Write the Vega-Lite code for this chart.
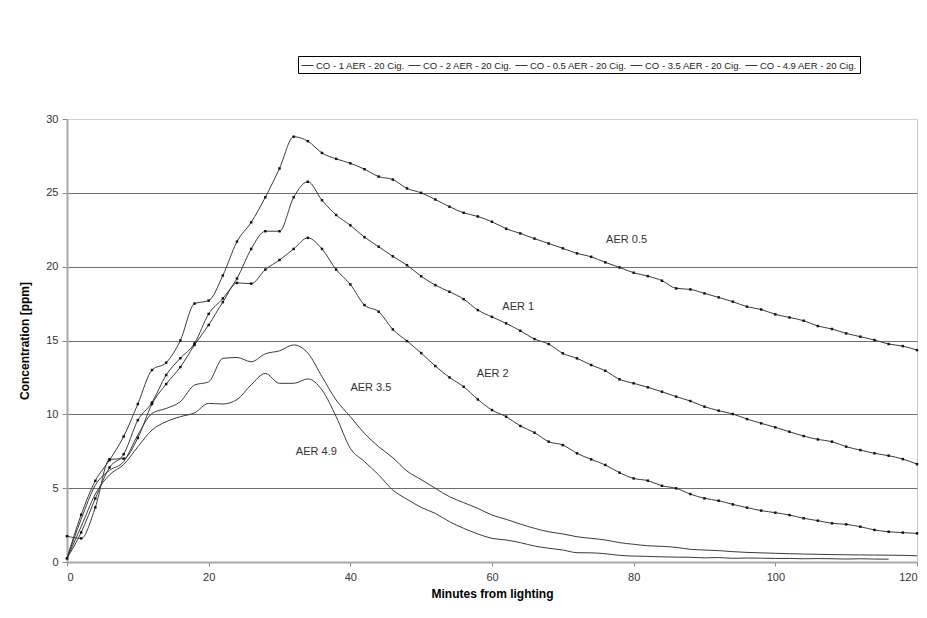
{
  "$schema": "https://vega.github.io/schema/vega-lite/v6.json",
  "width": 850,
  "height": 443,
  "autosize": {"type": "none"},
  "padding": {"left": 67, "top": 119, "right": 10, "bottom": 56},
  "background": "#ffffff",
  "config": {
    "font": "Liberation Sans",
    "view": {"stroke": "#c8c8c8", "strokeWidth": 1},
    "axis": {"labelFont": "Liberation Sans", "titleFont": "Liberation Sans"}
  },
  "datasets": {
    "co": [
      {"minute": 0, "a05": 0.25, "a1": 0.25, "a2": 1.75, "a35": 0.25, "a49": 0.25},
      {"minute": 2, "a05": 3.2, "a1": 2.0, "a2": 1.6, "a35": 2.9, "a49": 2.4},
      {"minute": 4, "a05": 5.5, "a1": 4.3, "a2": 3.7, "a35": 5.2, "a49": 4.6},
      {"minute": 6, "a05": 6.9, "a1": 6.4, "a2": 6.95, "a35": 6.2, "a49": 5.9},
      {"minute": 8, "a05": 8.5, "a1": 7.3, "a2": 7.0, "a35": 6.8, "a49": 6.6},
      {"minute": 10, "a05": 10.7, "a1": 9.6, "a2": 8.4, "a35": 8.6, "a49": 7.8},
      {"minute": 12, "a05": 13.0, "a1": 10.8, "a2": 10.7, "a35": 10.06, "a49": 8.94},
      {"minute": 14, "a05": 13.5, "a1": 12.66, "a2": 12.05, "a35": 10.4, "a49": 9.5},
      {"minute": 16, "a05": 15.0, "a1": 13.8, "a2": 13.2, "a35": 10.86, "a49": 9.84},
      {"minute": 18, "a05": 17.5, "a1": 14.8, "a2": 14.7, "a35": 11.98, "a49": 10.1},
      {"minute": 20, "a05": 17.7, "a1": 16.8, "a2": 16.05, "a35": 12.2, "a49": 10.74},
      {"minute": 22, "a05": 19.4, "a1": 17.85, "a2": 17.6, "a35": 13.79, "a49": 10.7},
      {"minute": 24, "a05": 21.7, "a1": 19.2, "a2": 18.9, "a35": 13.85, "a49": 11.0},
      {"minute": 26, "a05": 23.0, "a1": 21.2, "a2": 18.85, "a35": 13.56, "a49": 12.0},
      {"minute": 28, "a05": 24.7, "a1": 22.4, "a2": 19.8, "a35": 14.1, "a49": 12.77},
      {"minute": 30, "a05": 26.65, "a1": 22.4, "a2": 20.45, "a35": 14.3, "a49": 12.1},
      {"minute": 32, "a05": 28.8, "a1": 24.7, "a2": 21.2, "a35": 14.7, "a49": 12.1},
      {"minute": 34, "a05": 28.5, "a1": 25.75, "a2": 21.95, "a35": 14.15, "a49": 12.4},
      {"minute": 36, "a05": 27.7, "a1": 24.5, "a2": 21.2, "a35": 12.55, "a49": 11.65},
      {"minute": 38, "a05": 27.3, "a1": 23.5, "a2": 19.8, "a35": 10.97, "a49": 9.84},
      {"minute": 40, "a05": 27.0, "a1": 22.8, "a2": 18.8, "a35": 9.84, "a49": 7.7},
      {"minute": 42, "a05": 26.6, "a1": 22.0, "a2": 17.4, "a35": 8.71, "a49": 6.8},
      {"minute": 44, "a05": 26.1, "a1": 21.35, "a2": 16.95, "a35": 7.81, "a49": 5.9},
      {"minute": 46, "a05": 25.9, "a1": 20.7, "a2": 15.75, "a35": 7.06, "a49": 4.87},
      {"minute": 48, "a05": 25.3, "a1": 20.1, "a2": 14.96, "a35": 6.16, "a49": 4.25},
      {"minute": 50, "a05": 25.0, "a1": 19.35, "a2": 14.15, "a35": 5.58, "a49": 3.7},
      {"minute": 52, "a05": 24.55, "a1": 18.75, "a2": 13.27, "a35": 4.99, "a49": 3.29},
      {"minute": 54, "a05": 24.06, "a1": 18.3, "a2": 12.5, "a35": 4.42, "a49": 2.73},
      {"minute": 56, "a05": 23.65, "a1": 17.8, "a2": 11.87, "a35": 4.02, "a49": 2.28},
      {"minute": 58, "a05": 23.4, "a1": 17.06, "a2": 11.01, "a35": 3.63, "a49": 1.9},
      {"minute": 60, "a05": 23.04, "a1": 16.6, "a2": 10.29, "a35": 3.18, "a49": 1.6},
      {"minute": 62, "a05": 22.57, "a1": 16.16, "a2": 9.84, "a35": 2.89, "a49": 1.49},
      {"minute": 64, "a05": 22.25, "a1": 15.66, "a2": 9.21, "a35": 2.57, "a49": 1.31},
      {"minute": 66, "a05": 21.9, "a1": 15.1, "a2": 8.76, "a35": 2.28, "a49": 1.08},
      {"minute": 68, "a05": 21.57, "a1": 14.76, "a2": 8.15, "a35": 2.05, "a49": 0.93},
      {"minute": 70, "a05": 21.24, "a1": 14.13, "a2": 7.92, "a35": 1.9, "a49": 0.81},
      {"minute": 72, "a05": 20.9, "a1": 13.79, "a2": 7.36, "a35": 1.71, "a49": 0.63},
      {"minute": 74, "a05": 20.67, "a1": 13.34, "a2": 6.95, "a35": 1.6, "a49": 0.62},
      {"minute": 76, "a05": 20.29, "a1": 12.95, "a2": 6.57, "a35": 1.49, "a49": 0.56},
      {"minute": 78, "a05": 19.95, "a1": 12.37, "a2": 6.05, "a35": 1.31, "a49": 0.45},
      {"minute": 80, "a05": 19.59, "a1": 12.1, "a2": 5.66, "a35": 1.2, "a49": 0.4},
      {"minute": 82, "a05": 19.36, "a1": 11.83, "a2": 5.51, "a35": 1.1, "a49": 0.38},
      {"minute": 84, "a05": 19.05, "a1": 11.53, "a2": 5.16, "a35": 1.06, "a49": 0.35},
      {"minute": 86, "a05": 18.53, "a1": 11.2, "a2": 4.99, "a35": 0.99, "a49": 0.33},
      {"minute": 88, "a05": 18.46, "a1": 10.9, "a2": 4.6, "a35": 0.86, "a49": 0.32},
      {"minute": 90, "a05": 18.19, "a1": 10.52, "a2": 4.31, "a35": 0.81, "a49": 0.28},
      {"minute": 92, "a05": 17.92, "a1": 10.25, "a2": 4.15, "a35": 0.77, "a49": 0.3},
      {"minute": 94, "a05": 17.63, "a1": 10.02, "a2": 3.9, "a35": 0.7, "a49": 0.25},
      {"minute": 96, "a05": 17.29, "a1": 9.68, "a2": 3.68, "a35": 0.65, "a49": 0.27},
      {"minute": 98, "a05": 17.1, "a1": 9.39, "a2": 3.48, "a35": 0.62, "a49": 0.26},
      {"minute": 100, "a05": 16.77, "a1": 9.12, "a2": 3.34, "a35": 0.59, "a49": 0.24},
      {"minute": 102, "a05": 16.56, "a1": 8.82, "a2": 3.18, "a35": 0.56, "a49": 0.24},
      {"minute": 104, "a05": 16.34, "a1": 8.53, "a2": 2.96, "a35": 0.54, "a49": 0.22},
      {"minute": 106, "a05": 15.98, "a1": 8.3, "a2": 2.8, "a35": 0.52, "a49": 0.23},
      {"minute": 108, "a05": 15.78, "a1": 8.15, "a2": 2.62, "a35": 0.5, "a49": 0.22},
      {"minute": 110, "a05": 15.48, "a1": 7.81, "a2": 2.55, "a35": 0.49, "a49": 0.2},
      {"minute": 112, "a05": 15.26, "a1": 7.58, "a2": 2.39, "a35": 0.48, "a49": 0.22},
      {"minute": 114, "a05": 15.03, "a1": 7.36, "a2": 2.17, "a35": 0.47, "a49": 0.2},
      {"minute": 116, "a05": 14.76, "a1": 7.2, "a2": 2.05, "a35": 0.46, "a49": 0.19},
      {"minute": 118, "a05": 14.62, "a1": 6.97, "a2": 1.99, "a35": 0.45},
      {"minute": 120, "a05": 14.35, "a1": 6.63, "a2": 1.94, "a35": 0.42}
    ],
    "names": [
      {"key": "a1", "series": "CO - 1 AER - 20 Cig."},
      {"key": "a2", "series": "CO - 2 AER - 20 Cig."},
      {"key": "a05", "series": "CO - 0.5 AER - 20 Cig."},
      {"key": "a35", "series": "CO - 3.5 AER - 20 Cig."},
      {"key": "a49", "series": "CO - 4.9 AER - 20 Cig."}
    ],
    "labels": [
      {"text": "AER 0.5", "minute": 79, "ppm": 21.8},
      {"text": "AER 1", "minute": 63.7, "ppm": 17.3},
      {"text": "AER 2", "minute": 60.1, "ppm": 12.7},
      {"text": "AER 3.5", "minute": 42.9, "ppm": 11.8},
      {"text": "AER 4.9", "minute": 35.2, "ppm": 7.45}
    ]
  },
  "encoding": {
    "x": {
      "field": "minute", "type": "quantitative",
      "scale": {"domain": [0, 120], "nice": false, "zero": false},
      "axis": {
        "title": "Minutes from lighting", "values": [0, 20, 40, 60, 80, 100, 120],
        "grid": false, "domainColor": "#a8a8a8", "domainWidth": 2,
        "tickColor": "#888", "tickSize": 4, "labelColor": "#333", "labelFontSize": 11,
        "labelPadding": 5, "titleFontSize": 12, "titleFontWeight": "bold", "titleColor": "#000",
        "titlePadding": 6
      }
    },
    "y": {
      "field": "ppm", "type": "quantitative",
      "scale": {"domain": [0, 30], "nice": false},
      "axis": {
        "title": "Concentration [ppm]", "values": [0, 5, 10, 15, 20, 25, 30],
        "grid": true,
        "gridColor": {"condition": {"test": "datum.value == 30 || datum.value == 0", "value": "#d0d0d0"}, "value": "#6e6e6e"},
        "gridWidth": 1,
        "domainColor": "#a8a8a8", "domainWidth": 2,
        "tickColor": "#888", "tickSize": 5, "labelColor": "#333", "labelFontSize": 11,
        "labelPadding": 4, "titleFontSize": 12, "titleFontWeight": "bold", "titleColor": "#000",
        "titlePadding": 14
      }
    }
  },
  "layer": [
    {
      "data": {"name": "co"},
      "transform": [
        {"fold": ["a05", "a1", "a2", "a35", "a49"], "as": ["key", "ppm"]},
        {"filter": {"field": "ppm", "valid": true}},
        {"lookup": "key", "from": {"data": {"name": "names"}, "key": "key", "fields": ["series"]}}
      ],
      "mark": {"type": "line", "interpolate": "monotone", "strokeWidth": 1},
      "encoding": {
        "color": {
          "field": "series", "type": "nominal",
          "scale": {
            "domain": ["CO - 1 AER - 20 Cig.", "CO - 2 AER - 20 Cig.", "CO - 0.5 AER - 20 Cig.", "CO - 3.5 AER - 20 Cig.", "CO - 4.9 AER - 20 Cig."],
            "range": ["#3a3a3a", "#3a3a3a", "#3a3a3a", "#3a3a3a", "#3a3a3a"]
          },
          "legend": {
            "title": null, "orient": "none", "legendX": 231, "legendY": -63,
            "direction": "horizontal", "columns": 5, "symbolType": "stroke",
            "symbolSize": 144, "symbolStrokeWidth": 1, "symbolStrokeColor": "#000",
            "labelFontSize": 9.5, "labelColor": "#222", "labelOffset": 2, "columnPadding": 1,
            "strokeColor": "#000", "fillColor": "#fff", "padding": 3
          }
        },
        "detail": {"field": "series"}
      }
    },
    {
      "data": {"name": "co"},
      "transform": [
        {"fold": ["a05", "a1", "a2"], "as": ["key", "ppm"]},
        {"filter": {"field": "ppm", "valid": true}}
      ],
      "mark": {"type": "point", "shape": "square", "filled": true, "color": "#111", "opacity": 1},
      "encoding": {
        "size": {
          "field": "key", "type": "nominal",
          "scale": {"domain": ["a05", "a1", "a2"], "range": [6, 6, 10]},
          "legend": null
        }
      }
    },
    {
      "data": {"name": "labels"},
      "mark": {"type": "text", "fontSize": 11, "color": "#333", "font": "Liberation Sans", "align": "center", "baseline": "middle"},
      "encoding": {"text": {"field": "text"}}
    }
  ]
}
